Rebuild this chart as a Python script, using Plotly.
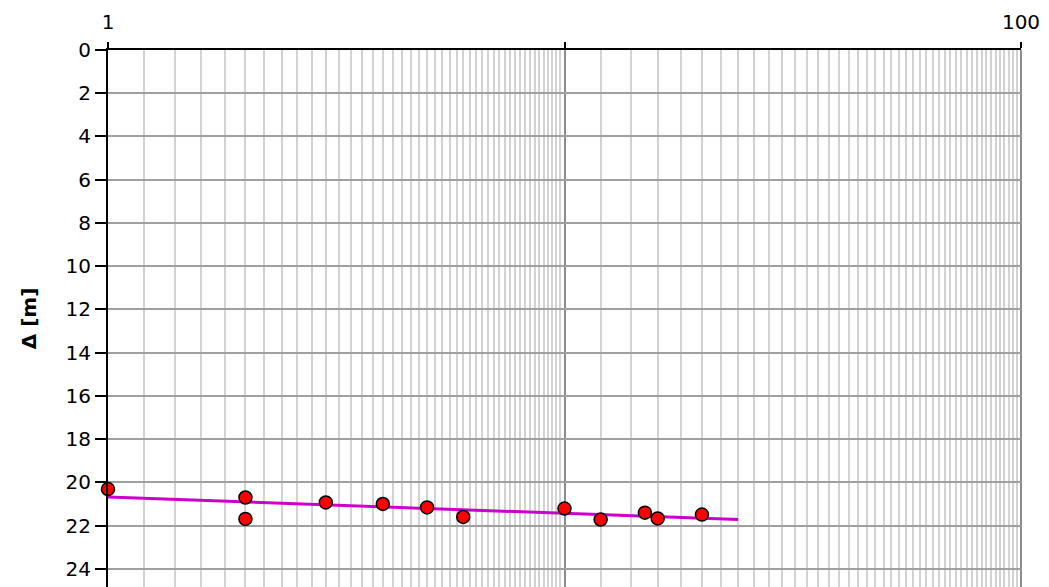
import numpy as np
import plotly.graph_objects as go

# Measured points
pts_x = [1.0, 2.0, 2.0, 3.0, 4.0, 5.0, 6.0, 10.0, 12.0, 15.0, 16.0, 20.0]
pts_y = [20.31, 20.70, 21.69, 20.93, 21.00, 21.16, 21.60, 21.21, 21.72, 21.40, 21.67, 21.49]

# Fitted trend line (endpoints)
fit_x = [1.0, 24.0]
fit_y = [20.68, 21.72]

# Axis settings
x_tick_vals = [1, 10, 100]
x_tick_text = ["1", "", "100"]
x_minor_grid = [round(v, 1) for v in np.arange(1.2, 10.0, 0.2)] + list(range(12, 100, 2))
y_range = [24.84, 0]
y_title = "Δ [m]"

FONT = "DejaVu Sans"

fig = go.Figure()
fig.add_trace(go.Scatter(
    x=fit_x, y=fit_y, mode="lines",
    line=dict(color="#cc00cc", width=3),
    showlegend=False, hoverinfo="skip",
))
fig.add_trace(go.Scatter(
    x=pts_x, y=pts_y, mode="markers",
    marker=dict(color="#ff0000", size=13, line=dict(color="#000000", width=1.5)),
    showlegend=False, cliponaxis=False,
))

fig.update_layout(
    width=1049, height=587,
    margin=dict(l=100, r=36, t=42, b=8, autoexpand=False),
    paper_bgcolor="white", plot_bgcolor="white",
    font=dict(family=FONT, size=20, color="black"),
    xaxis=dict(
        type="log", range=[0, 2], side="top",
        tickvals=x_tick_vals, ticktext=x_tick_text,
        ticks="outside", ticklen=6, tickwidth=2, tickcolor="black",
        ticklabelstandoff=5,
        showline=True, linecolor="black", linewidth=2,
        showgrid=True, gridcolor="#8c8c8c", gridwidth=2,
        zeroline=False,
        minor=dict(tickvals=x_minor_grid, showgrid=True, gridcolor="#d2d2d2",
                   gridwidth=2, ticks=""),
        tickfont=dict(family=FONT, size=20, color="black"),
    ),
    yaxis=dict(
        range=y_range, dtick=2, tick0=0,
        ticks="outside", ticklen=11, tickwidth=2, tickcolor="black",
        showline=True, linecolor="black", linewidth=2,
        showgrid=True, gridcolor="#a0a0a0", gridwidth=2,
        zeroline=False,
        title=dict(text=y_title, font=dict(family=FONT, size=20, color="black", weight="bold"),
                   standoff=24),
        tickfont=dict(family=FONT, size=20, color="black"),
    ),
    shapes=[dict(type="line", xref="paper", yref="paper", x0=1, x1=1, y0=0, y1=1,
                 line=dict(color="#8c8c8c", width=2), layer="below")],
)

fig.write_html("out.html")
